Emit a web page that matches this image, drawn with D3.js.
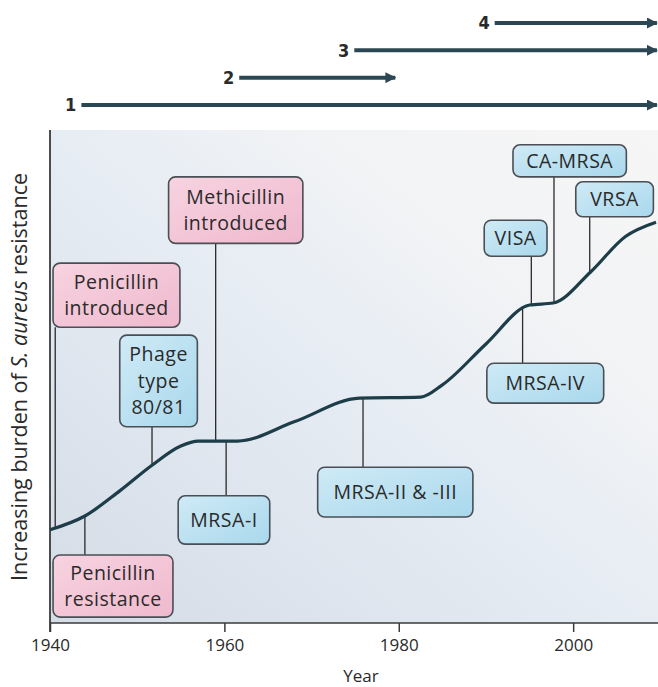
<!DOCTYPE html>
<html>
<head>
<meta charset="utf-8" />
<title>S. aureus resistance</title>
<script src="https://d3js.org/d3.v7.min.js"></script>
<style>
  body { margin: 0; background: #fff; }
  text { font-family: "Open Sans", "Noto Sans", sans-serif; fill: #2a2a2a; }
</style>
</head>
<body>
<div id="chart"></div>
<script>
// burden curve (year, arbitrary burden units 0-100)
const curveYears  = [1940, 1944, 1948, 1951.7, 1955, 1957, 1961.5, 1968, 1975.5, 1982.5, 1985, 1990, 1995, 1997.7, 2002, 2006, 2009.5];
const curveBurden = [18.9, 21.7, 26.8, 32.0, 35.9, 36.9, 36.9, 40.8, 45.6, 45.8, 48.3, 56.6, 64.5, 64.9, 71.2, 78.4, 81.3];

const xTicks = [1940, 1960, 1980, 2000];

// waves of resistance (top arrows)
const waveIds    = [1, 2, 3, 4];
const waveStart  = [1943.6, 1961.7, 1974.9, 1991.0];
const waveEnd    = [2009.6, 1979.6, 2009.6, 2009.6];

// events along the curve
const eventLabels = [
  ["Penicillin", "introduced"],
  ["Methicillin", "introduced"],
  ["Phage", "type", "80/81"],
  ["MRSA-I"],
  ["Penicillin", "resistance"],
  ["MRSA-II & -III"],
  ["CA-MRSA"],
  ["VRSA"],
  ["VISA"],
  ["MRSA-IV"]
];
const eventYears = [1940.6, 1959.0, 1951.7, 1960.2, 1944.0, 1975.9, 1997.8, 2001.9, 1995.2, 1994.2];
const eventKind  = ["drug", "drug", "strain", "strain", "drug", "strain", "strain", "strain", "strain", "strain"];
// box extents in data units: [yearLeft, yearRight, burdenTop, burdenBottom]
const eventBoxes = [
  [1940.35, 1954.9, 73.0, 60.0],
  [1953.6, 1969.0, 90.5, 77.0],
  [1948.0, 1956.9, 58.4, 39.8],
  [1954.7, 1965.2, 25.8, 16.0],
  [1940.35, 1954.1, 13.8, 1.2],
  [1970.7, 1988.5, 31.6, 21.5],
  [1993.1, 2006.1, 97.0, 90.5],
  [2000.3, 2009.2, 89.5, 82.4],
  [1989.8, 1997.0, 81.7, 74.4],
  [1990.1, 2003.5, 52.7, 44.6]
];

const W = 658, H = 687;
const plot = {left: 50, right: 656, top: 130, bottom: 623};

const svg = d3.select("#chart").append("svg")
    .attr("width", W).attr("height", H);

const x = d3.scaleLinear().domain([1940, 2009.5]).range([plot.left, plot.right]);
const y = d3.scaleLinear().domain([0, 100]).range([plot.bottom, plot.top]);
const rowY = d3.scalePoint().domain(waveIds).range([105, 23]);

const defs = svg.append("defs");

const bg = defs.append("linearGradient").attr("id", "bg")
    .attr("x1", 0).attr("y1", 1).attr("x2", 1).attr("y2", 0);
bg.append("stop").attr("offset", "0%").attr("stop-color", "#d4dce6");
bg.append("stop").attr("offset", "45%").attr("stop-color", "#e4ebf3");
bg.append("stop").attr("offset", "72%").attr("stop-color", "#f2f3f5");
bg.append("stop").attr("offset", "100%").attr("stop-color", "#f6f6f6");

const pink = defs.append("linearGradient").attr("id", "pink")
    .attr("x1", 0).attr("y1", 0).attr("x2", 1).attr("y2", 1);
pink.append("stop").attr("offset", "0%").attr("stop-color", "#f7d3e0");
pink.append("stop").attr("offset", "100%").attr("stop-color", "#efb9cd");

const blue = defs.append("linearGradient").attr("id", "blue")
    .attr("x1", 0).attr("y1", 0).attr("x2", 1).attr("y2", 1);
blue.append("stop").attr("offset", "0%").attr("stop-color", "#cfeaf6");
blue.append("stop").attr("offset", "100%").attr("stop-color", "#a9d8ec");

defs.append("marker").attr("id", "head")
    .attr("viewBox", "0 0 10 10").attr("refX", 9).attr("refY", 5)
    .attr("markerUnits", "userSpaceOnUse")
    .attr("markerWidth", 11).attr("markerHeight", 11)
    .attr("orient", "auto")
  .append("path").attr("d", "M0,0 L10,5 L0,10 Z").attr("fill", "#2b4753");

// background panel
svg.append("rect")
    .attr("x", plot.left).attr("y", plot.top)
    .attr("width", plot.right - plot.left + 2).attr("height", plot.bottom - plot.top)
    .attr("fill", "url(#bg)");

// axes
const xAxis = svg.append("g")
    .attr("transform", `translate(0,${plot.bottom})`)
    .call(d3.axisBottom(x).tickValues(xTicks).tickFormat(d3.format("d")).tickSize(9).tickSizeOuter(0).tickPadding(7));
xAxis.select(".domain").remove();
xAxis.selectAll("line").attr("stroke", "#3a3a3a").attr("stroke-width", 1.5);
xAxis.selectAll("text").style("font-size", "17px").attr("fill", "#333").style("font-family", "'Open Sans', sans-serif");

svg.append("line")
    .attr("x1", plot.left).attr("x2", W).attr("y1", plot.bottom).attr("y2", plot.bottom)
    .attr("stroke", "#3a3a3a").attr("stroke-width", 1.5);
svg.append("line")
    .attr("x1", plot.left).attr("x2", plot.left).attr("y1", plot.top).attr("y2", plot.bottom + 9)
    .attr("stroke", "#3a3a3a").attr("stroke-width", 1.8);

svg.append("text")
    .attr("x", (plot.left + plot.right) / 2 + 8).attr("y", 682)
    .attr("text-anchor", "middle")
    .style("font-size", "17px")
    .text("Year");

const yl = svg.append("text")
    .attr("transform", `translate(27,377) rotate(-90)`)
    .attr("text-anchor", "middle")
    .style("font-size", "21.5px");
yl.append("tspan").text("Increasing burden of ");
yl.append("tspan").style("font-style", "italic").text("S. aureus");
yl.append("tspan").text(" resistance");

// curve
const curveData = curveYears.map((yr, i) => ({year: yr, burden: curveBurden[i]}));
const line = d3.line().x(d => x(d.year)).y(d => y(d.burden)).curve(d3.curveMonotoneX);
const curvePath = svg.append("path")
    .datum(curveData)
    .attr("d", line)
    .attr("fill", "none")
    .attr("stroke", "#1d3d48")
    .attr("stroke-width", 3.2);

// find the curve's y at a given year from the drawn path
const pathNode = curvePath.node();
const totalLen = pathNode.getTotalLength();
function curveYAt(year) {
  const tx = x(year);
  let lo = 0, hi = totalLen;
  for (let k = 0; k < 40; k++) {
    const mid = (lo + hi) / 2;
    if (pathNode.getPointAtLength(mid).x < tx) lo = mid; else hi = mid;
  }
  return pathNode.getPointAtLength(lo).y;
}

// events: connectors first, boxes on top
const events = eventLabels.map((lines, i) => ({
  lines, year: eventYears[i], kind: eventKind[i], box: eventBoxes[i]
}));

const conn = svg.append("g");
events.forEach(e => {
  const cy = curveYAt(e.year);
  const top = y(e.box[2]), bottom = y(e.box[3]);
  const edge = bottom < cy ? bottom : top;
  conn.append("line")
      .attr("x1", x(e.year)).attr("x2", x(e.year))
      .attr("y1", edge).attr("y2", cy)
      .attr("stroke", "#2a2a2a").attr("stroke-width", 1.3);
});
// redraw curve above connectors
pathNode.parentNode.appendChild(pathNode);

const boxes = svg.append("g").selectAll("g")
    .data(events).join("g");

boxes.append("rect")
    .attr("x", d => x(d.box[0]))
    .attr("y", d => y(d.box[2]))
    .attr("width", d => x(d.box[1]) - x(d.box[0]))
    .attr("height", d => y(d.box[3]) - y(d.box[2]))
    .attr("rx", 7).attr("ry", 7)
    .attr("fill", d => d.kind === "drug" ? "url(#pink)" : "url(#blue)")
    .attr("stroke", "#4a4f55").attr("stroke-width", 1.6);

boxes.each(function(d) {
  const g = d3.select(this);
  const cx = (x(d.box[0]) + x(d.box[1])) / 2;
  const cy = (y(d.box[2]) + y(d.box[3])) / 2;
  const lh = 26.5;
  const n = d.lines.length;
  d.lines.forEach((t, k) => {
    g.append("text")
        .attr("x", cx)
        .attr("y", cy + (k - (n - 1) / 2) * lh)
        .attr("dy", "0.36em")
        .attr("text-anchor", "middle")
        .style("font-size", "19.5px")
        .style("letter-spacing", "0.5px")
        .text(t);
  });
});

// waves of resistance
const waves = waveIds.map((id, i) => ({id, start: waveStart[i], end: waveEnd[i]}));
const wg = svg.append("g").selectAll("g").data(waves).join("g");
wg.append("line")
    .attr("x1", d => x(d.start)).attr("x2", d => x(d.end))
    .attr("y1", d => rowY(d.id)).attr("y2", d => rowY(d.id))
    .attr("stroke", "#2b4753").attr("stroke-width", 4)
    .attr("marker-end", "url(#head)");
wg.append("text")
    .attr("x", d => x(d.start) - 5)
    .attr("y", d => rowY(d.id))
    .attr("dy", "0.36em")
    .attr("text-anchor", "end")
    .style("font-family", "'Liberation Sans Narrow', 'DejaVu Sans Condensed', sans-serif")
    .style("font-weight", "bold")
    .style("font-size", "18px")
    .attr("fill", "#1e1e1e")
    .text(d => d.id);
</script>
</body>
</html>
